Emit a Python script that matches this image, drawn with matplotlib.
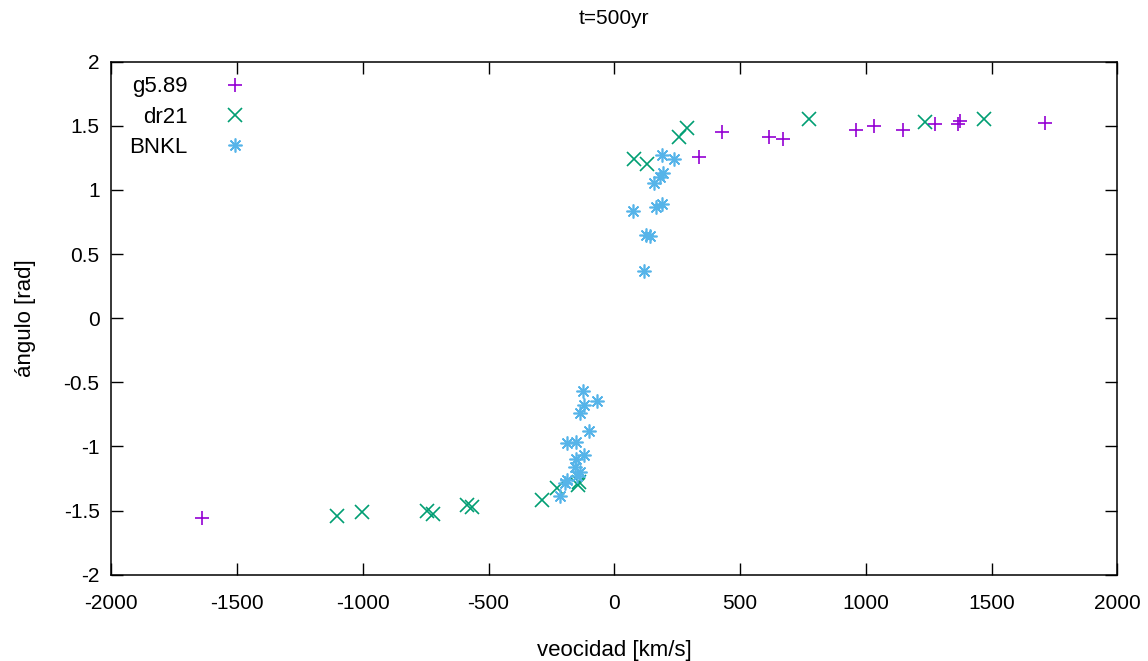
import matplotlib
matplotlib.use("Agg")
import matplotlib.pyplot as plt
from matplotlib.ticker import FormatStrFormatter, MultipleLocator

# g5.89
g589_v = [-1641, 336, 430, 614, 672, 959, 1033, 1147, 1274, 1366, 1375, 1711]
g589_a = [-1.56, 1.255, 1.454, 1.41, 1.395, 1.467, 1.499, 1.467, 1.512, 1.512, 1.54, 1.524]

# dr21
dr21_v = [-1104, -1004, -746, -722, -587, -567, -289, -229, -143, -139,
          78, 128, 257, 288, 773, 1237, 1468]
dr21_a = [-1.542, -1.514, -1.501, -1.529, -1.457, -1.47, -1.417, -1.327, -1.30, -1.275,
          1.239, 1.202, 1.41, 1.486, 1.553, 1.527, 1.553]

# BNKL
bnkl_v = [-123, -70, -120, -136, -99, -189, -152, -120, -152, -156, -136, -147, -189, -196, -216,
          188, 238, 193, 180, 158, 73, 165, 191, 126, 142, 116]
bnkl_a = [-0.565, -0.643, -0.677, -0.737, -0.88, -0.971, -0.963, -1.067, -1.10, -1.158, -1.197,
          -1.23, -1.262, -1.288, -1.386,
          1.272, 1.241, 1.13, 1.10, 1.052, 0.836, 0.865, 0.89, 0.651, 0.641, 0.368]

plt.rcParams['font.family'] = ['Liberation Sans', 'DejaVu Sans']
plt.rcParams['axes.unicode_minus'] = False

fig = plt.figure(figsize=(11.48, 6.61), dpi=100)
ax = fig.add_axes([0.097, 0.1306, 0.8763, 0.7761])

ax.plot(g589_v, g589_a, ls='none', marker='+', ms=10, mew=1.2, color='#9400d3', label='g5.89')
ax.plot(dr21_v, dr21_a, ls='none', marker='x', ms=10, mew=1.2, color='#009e73', label='dr21')
ax.plot(bnkl_v, bnkl_a, ls='none', marker=(8, 2, 0), ms=10, mew=1.2, color='#56b4e9', label='BNKL')

ax.set_xlim(-2000, 2000)
ax.set_ylim(-2, 2)
ax.xaxis.set_major_locator(MultipleLocator(500))
ax.yaxis.set_major_locator(MultipleLocator(0.5))
ax.yaxis.set_major_formatter(FormatStrFormatter('%g'))
ax.tick_params(direction='in', length=8.5, width=1, top=True, right=True,
               labelsize=15, colors='black')
ax.tick_params(axis='x', pad=14)
ax.tick_params(axis='y', pad=8.5)
for s in ax.spines.values():
    s.set_linewidth(1.1)

ax.set_title('t=500yr', fontsize=15, pad=27)
ax.set_xlabel('veocidad [km/s]', fontsize=16, labelpad=19)
ax.set_ylabel('ángulo [rad]', fontsize=16, labelpad=20)

ax.legend(loc='upper left', frameon=False, markerfirst=False, fontsize=16,
          handlelength=0.95, handletextpad=1.65, labelspacing=0.42,
          borderaxespad=0.4, bbox_to_anchor=(0.0, 1.006))

fig.savefig('out.png', dpi=100)
